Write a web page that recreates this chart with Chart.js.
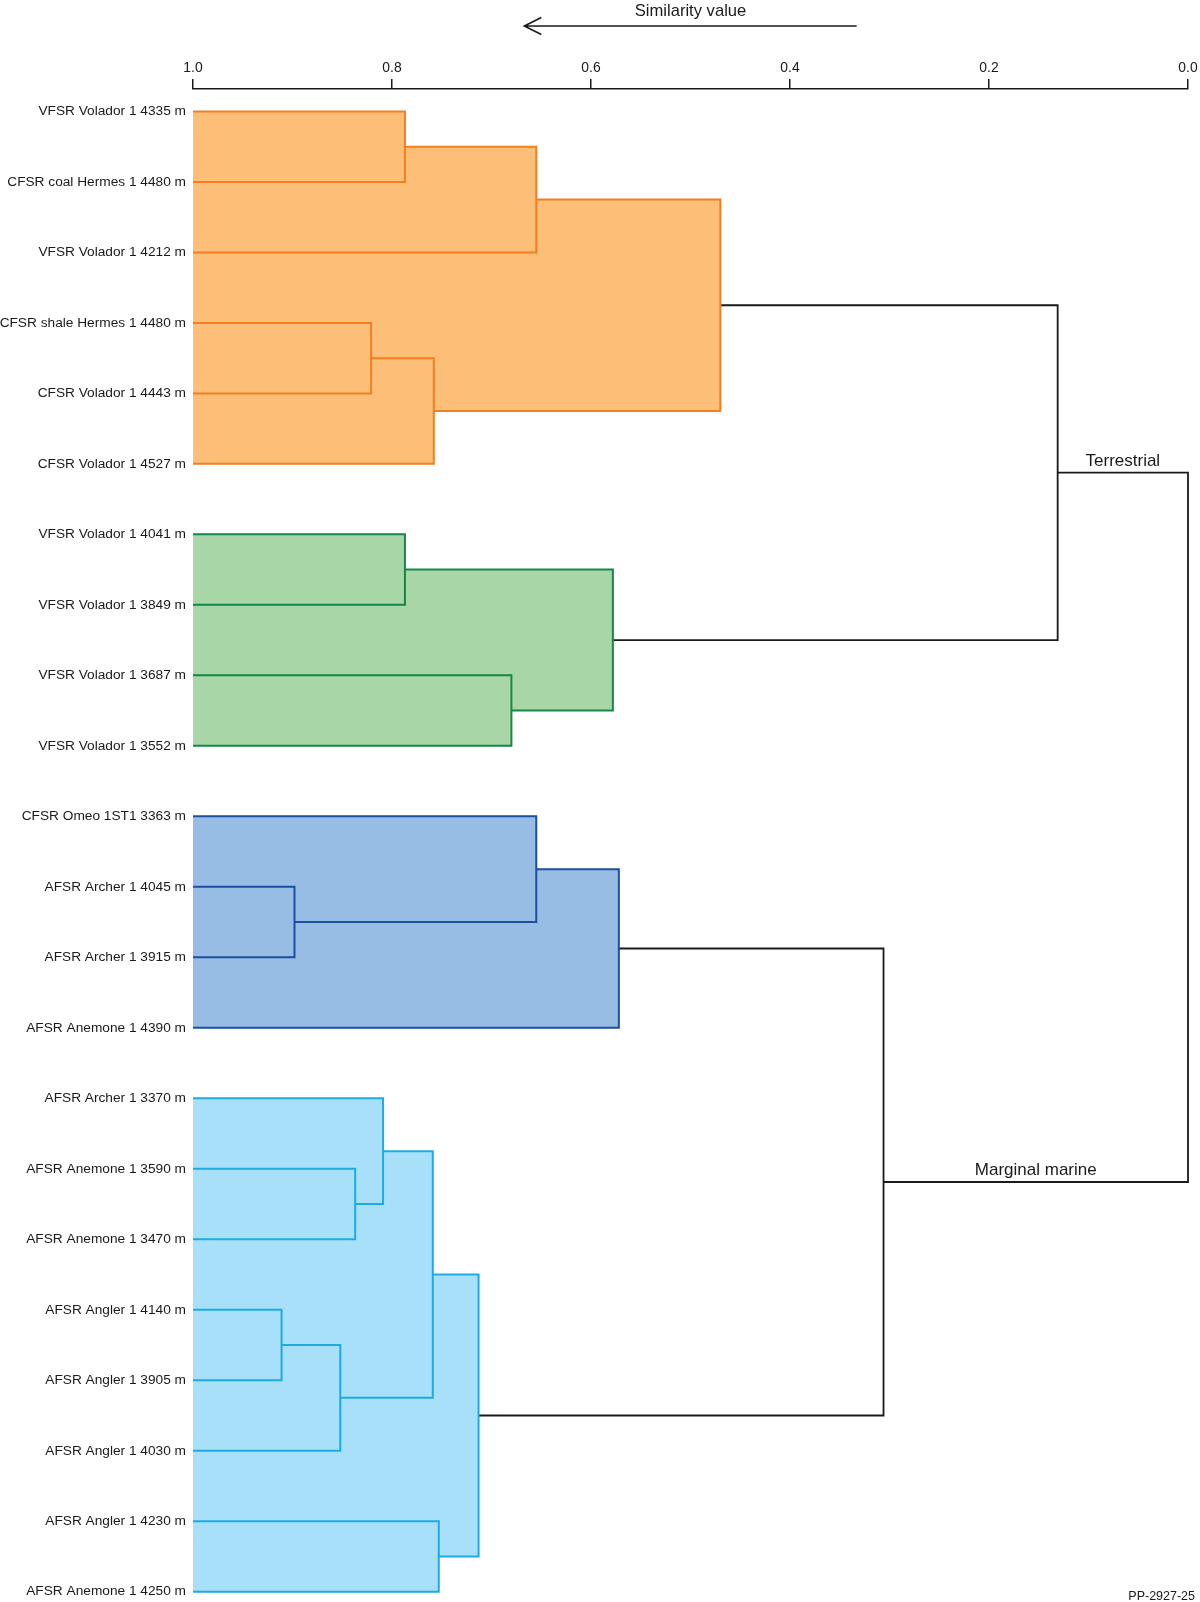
<!DOCTYPE html>
<html>
<head>
<meta charset="utf-8">
<script src="https://cdn.jsdelivr.net/npm/chart.js@4.4.1/dist/chart.umd.min.js"></script>
<style>
  html, body { margin: 0; padding: 0; background: #fff; }
  #wrap { width: 1200px; height: 1602px; position: relative; }
</style>
</head>
<body>
<div id="wrap"><canvas id="chartDendro"></canvas></div>
<script>
// ================================================================
// Dendrogram — similarity of samples
// ================================================================

// Leaves, top to bottom
const leafLabels = [
    'VFSR Volador 1 4335 m',
    'CFSR coal Hermes 1 4480 m',
    'VFSR Volador 1 4212 m',
    'CFSR shale Hermes 1 4480 m',
    'CFSR Volador 1 4443 m',
    'CFSR Volador 1 4527 m',
    'VFSR Volador 1 4041 m',
    'VFSR Volador 1 3849 m',
    'VFSR Volador 1 3687 m',
    'VFSR Volador 1 3552 m',
    'CFSR Omeo 1ST1 3363 m',
    'AFSR Archer 1 4045 m',
    'AFSR Archer 1 3915 m',
    'AFSR Anemone 1 4390 m',
    'AFSR Archer 1 3370 m',
    'AFSR Anemone 1 3590 m',
    'AFSR Anemone 1 3470 m',
    'AFSR Angler 1 4140 m',
    'AFSR Angler 1 3905 m',
    'AFSR Angler 1 4030 m',
    'AFSR Angler 1 4230 m',
    'AFSR Anemone 1 4250 m'
];

// Merges: [child, child, similarity]. Leaves are 0..21, merge k creates node 22 + k
const merges = [
    [0, 1, 0.787],    // 22
    [22, 2, 0.655],   // 23
    [3, 4, 0.821],    // 24
    [24, 5, 0.758],   // 25
    [23, 25, 0.470],  // 26 orange cluster
    [6, 7, 0.787],    // 27
    [8, 9, 0.680],    // 28
    [27, 28, 0.578],  // 29 green cluster
    [11, 12, 0.898],  // 30
    [10, 30, 0.655],  // 31
    [31, 13, 0.572],  // 32 blue cluster
    [15, 16, 0.837],  // 33
    [14, 33, 0.809],  // 34
    [17, 18, 0.911],  // 35
    [35, 19, 0.852],  // 36
    [34, 36, 0.759],  // 37
    [20, 21, 0.753],  // 38
    [37, 38, 0.713],  // 39 light blue cluster
    [26, 29, 0.131],  // 40 Terrestrial
    [32, 39, 0.306],  // 41 Marginal marine
    [40, 41, 0.0]     // 42 root
];

const clusterRoots = [26, 29, 32, 39];
const clusterLines = ['#f37f21', '#14874a', '#1b4fa2', '#1eabe3'];
const clusterFills = ['#fdbf77', '#a9d6a7', '#98bde4', '#a8e0f9'];

const namedNodes = [40, 41];
const namedTexts = ['Terrestrial', 'Marginal marine'];

const xTicks = [0, 0.2, 0.4, 0.6, 0.8, 1.0];

// ── Tree geometry (values only, pixels come from the scales) ────
const nLeaf    = leafLabels.length;
const nodeY    = leafLabels.map((_, i) => i);
const nodeV    = leafLabels.map(() => 1);
const parentOf = [];
merges.forEach(([a, b, v], k) => {
    const id = nLeaf + k;
    nodeY[id] = (nodeY[a] + nodeY[b]) / 2;
    nodeV[id] = v;
    parentOf[a] = id;
    parentOf[b] = id;
});

function groupOf(id) {
    let n = id;
    while (n !== undefined) {
        const g = clusterRoots.indexOf(n);
        if (g >= 0) return g;
        n = parentOf[n];
    }
    return -1;
}

// ── Font: condensed if the narrow face is installed ──────────────
function fontAvailable(name) {
    const c = document.createElement('canvas').getContext('2d');
    const s = 'VFSR Volador 1 4335 m';
    c.font = '20px monospace';
    const w0 = c.measureText(s).width;
    c.font = `20px "${name}", monospace`;
    return c.measureText(s).width !== w0;
}
const narrow = fontAvailable('Liberation Sans Narrow');
const FAMILY = narrow ? '"Liberation Sans Narrow", "Liberation Sans", Arial, sans-serif'
                      : '"Liberation Sans", Arial, sans-serif';
const fs = size => narrow ? size : Math.round(size * 0.84 * 10) / 10;
const INK = '#1a1a1a';

// ── Datasets: one elbow per merge ────────────────────────────────
const datasets = merges.map(([a, b, v], k) => {
    const g = groupOf(nLeaf + k);
    return {
        data: [
            { x: nodeV[a], y: nodeY[a] },
            { x: v,        y: nodeY[a] },
            { x: v,        y: nodeY[b] },
            { x: nodeV[b], y: nodeY[b] }
        ],
        showLine: true,
        clip: false,
        borderColor: g >= 0 ? clusterLines[g] : INK,
        borderWidth: g >= 0 ? 2 : 1.8,
        pointRadius: 0,
        tension: 0
    };
});

// ── Plugins ──────────────────────────────────────────────────────
const clusterFillPlugin = {
    id: 'clusterFill',
    beforeDatasetsDraw(chart) {
        const { ctx, scales: { x, y } } = chart;
        ctx.save();
        merges.forEach(([a, b, v], k) => {
            const g = groupOf(nLeaf + k);
            if (g < 0) return;
            const x0 = x.getPixelForValue(1), x1 = x.getPixelForValue(v);
            const y0 = y.getPixelForValue(nodeY[a]), y1 = y.getPixelForValue(nodeY[b]);
            ctx.fillStyle = clusterFills[g];
            ctx.fillRect(x0, Math.min(y0, y1), x1 - x0, Math.abs(y1 - y0));
        });
        ctx.restore();
    }
};

const annotationPlugin = {
    id: 'annotations',
    afterDraw(chart) {
        const { ctx, scales: { x, y } } = chart;
        ctx.save();
        ctx.fillStyle = INK;
        ctx.strokeStyle = INK;

        // group names above the branch to the root
        ctx.font = `${fs(20.2)}px ${FAMILY}`;
        ctx.textAlign = 'center';
        ctx.textBaseline = 'middle';
        namedNodes.forEach((id, k) => {
            const px0 = x.getPixelForValue(nodeV[id]);
            const px1 = x.getPixelForValue(nodeV[parentOf[id]]);
            const py  = y.getPixelForValue(nodeY[id]);
            ctx.fillText(namedTexts[k], (px0 + px1) / 2, py - 11.5);
        });

        // direction arrow under the axis title
        const ax0 = x.getPixelForValue(0.333), ax1 = x.getPixelForValue(0.667), ay = 26;
        ctx.lineWidth = 1.6;
        ctx.beginPath();
        ctx.moveTo(ax0, ay); ctx.lineTo(ax1, ay);
        ctx.moveTo(ax1 + 17, ay - 8.5); ctx.lineTo(ax1, ay); ctx.lineTo(ax1 + 17, ay + 8.5);
        ctx.stroke();

        // figure code
        ctx.font = '12.5px "Liberation Sans", Arial, sans-serif';
        ctx.textAlign = 'right';
        ctx.fillText('PP-2927-25', 1195, 1597);
        ctx.restore();
    }
};

// ── Chart ────────────────────────────────────────────────────────
new Chart(document.getElementById('chartDendro').getContext('2d'), {
    type: 'scatter',
    data: { datasets },
    plugins: [clusterFillPlugin, annotationPlugin],
    options: {
        responsive: true,
        maintainAspectRatio: false,
        animation: false,
        layout: { autoPadding: false, padding: { left: 0, right: 12, top: 0, bottom: 6 } },
        plugins: { legend: { display: false }, tooltip: { enabled: false } },
        scales: {
            x: {
                type: 'linear', position: 'top', reverse: true, min: 0, max: 1,
                afterFit: s => { s.height = 89; },
                afterBuildTicks: s => { s.ticks = xTicks.map(v => ({ value: v })); },
                ticks: {
                    callback: v => Number(v).toFixed(1),
                    padding: 2, color: INK,
                    font: { family: FAMILY, size: fs(16.5) }
                },
                grid: { drawOnChartArea: false, drawTicks: true, tickLength: 10, color: INK, lineWidth: 1.5 },
                border: { display: true, color: INK, width: 1.5 },
                title: {
                    display: true, text: 'Similarity value', padding: { top: 1, bottom: 0 }, color: INK,
                    font: { family: FAMILY, size: fs(19.8) }
                }
            },
            y: {
                type: 'linear', reverse: true, min: -0.318, max: 20.93,
                afterFit: s => { s.width = 193; },
                afterBuildTicks: s => { s.ticks = leafLabels.map((_, i) => ({ value: i })); },
                ticks: {
                    autoSkip: false,
                    callback: (v, i) => leafLabels[i],
                    padding: 7, color: INK,
                    font: { family: FAMILY, size: fs(16.3) }
                },
                grid: { display: false, drawTicks: false },
                border: { display: false }
            }
        }
    }
});
</script>
</body>
</html>
